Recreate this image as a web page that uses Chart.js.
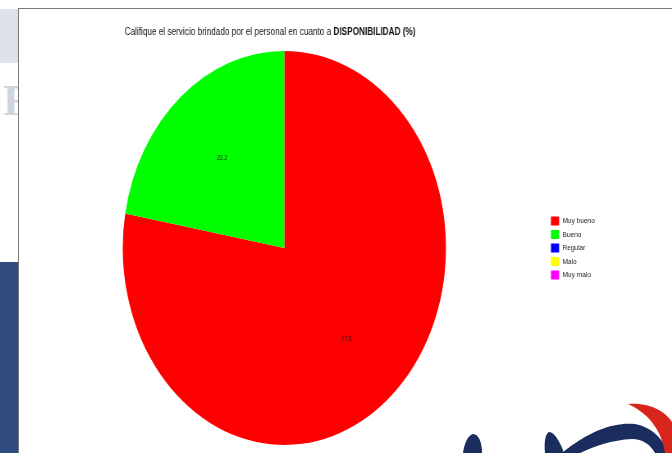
<!DOCTYPE html>
<html>
<head>
<meta charset="utf-8">
<script src="https://cdn.jsdelivr.net/npm/chart.js@4.4.0/dist/chart.umd.min.js"></script>
<style>
    html, body { margin: 0; padding: 0; width: 672px; height: 453px; overflow: hidden; background: #fff; }
    body { position: relative; font-family: "Liberation Sans", Arial, sans-serif; }
    #side-top { position: absolute; left: 0; top: 9px; width: 18px; height: 54px; background: #dde1ea; }
    #side-r { position: absolute; left: 3px; top: 76px; width: 15px; height: 48px; overflow: hidden; color: #d3d4dc; font: bold 44px "Liberation Serif", serif; line-height: 50px; }
    #side-blue { position: absolute; left: 0; top: 262px; width: 18px; height: 191px; background: #304b7d; }
    #frame { position: absolute; left: 18px; top: 8px; width: 654px; height: 445px; border-left: 1px solid #7a7a7a; border-top: 1px solid #7a7a7a; box-sizing: border-box; background: #fff; }
    #availabilityPie { position: absolute; left: 19px; top: 9px; }
    #logo { position: absolute; left: 0; top: 0; pointer-events: none; }
</style>
</head>
<body>
<div id="side-top"></div>
<div id="side-r">R</div>
<div id="side-blue"></div>
<div id="frame"></div>
<!-- the source picture is squeezed sideways, so the canvas is drawn wider and shown at 653px -->
<canvas id="availabilityPie" width="796" height="444" style="width:653px;height:444px"></canvas>
<svg id="logo" width="672" height="453">
    <path d="M463,453 C464,444 468,435 473,434 C479,434 482,443 482,453 Z" fill="#1b2d5e"/>
    <path d="M545,453 C544,443 545,434 549,432 C555,432 561,444 564,453 Z" fill="#1b2d5e"/>
    <path d="M562,453 C590,430 615,422 635,424 C652,427 664,440 668,453 L655,453 C650,444 642,439 632,439 C612,440 595,446 580,453 Z" fill="#1b2d5e"/>
    <path d="M628,404 C650,402 666,412 672,422 L672,453 L665,453 C662,432 650,414 628,404 Z" fill="#d9261c"/>
</svg>

<script>
const categories = ['Muy bueno', 'Bueno', 'Regular', 'Malo', 'Muy malo'];
const percentages = [77.8, 22.2, 0, 0, 0];
const sliceColors = ['#ff0000', '#00ff00', '#0000ff', '#ffff00', '#ff00ff'];
const titleParts = ['Califique el servicio brindado por el personal en cuanto a ', 'DISPONIBILIDAD (%)'];

// title has a plain part and a bold part, so it is drawn by hand
const splitTitle = {
    id: 'splitTitle',
    afterDraw(chart) {
        const ctx = chart.ctx;
        ctx.save();
        ctx.fillStyle = '#111';
        ctx.textBaseline = 'middle';
        ctx.textAlign = 'left';
        ctx.font = '10px "Liberation Sans", Arial, sans-serif';
        const w1 = ctx.measureText(titleParts[0]).width;
        ctx.font = 'bold 10px "Liberation Sans", Arial, sans-serif';
        const w2 = ctx.measureText(titleParts[1]).width;
        let x = 306 - (w1 + w2) / 2;
        ctx.font = '10px "Liberation Sans", Arial, sans-serif';
        ctx.fillText(titleParts[0], x, 23.5);
        ctx.font = 'bold 10px "Liberation Sans", Arial, sans-serif';
        ctx.fillText(titleParts[1], x + w1, 23.5);
        ctx.restore();
    }
};

// small value labels inside each slice
const sliceValues = {
    id: 'sliceValues',
    afterDatasetsDraw(chart) {
        const ctx = chart.ctx;
        const meta = chart.getDatasetMeta(0);
        ctx.save();
        ctx.font = '6.5px "Liberation Sans", Arial, sans-serif';
        ctx.fillStyle = '#222';
        ctx.textAlign = 'center';
        ctx.textBaseline = 'middle';
        meta.data.forEach((arc, i) => {
            if (!percentages[i]) return;
            const mid = (arc.startAngle + arc.endAngle) / 2;
            const r = arc.outerRadius * 0.6;
            ctx.fillText(percentages[i].toFixed(1), arc.x + Math.cos(mid) * r, arc.y + Math.sin(mid) * r + 1);
        });
        ctx.restore();
    }
};

const ctx = document.getElementById('availabilityPie').getContext('2d');
new Chart(ctx, {
    type: 'pie',
    data: {
        labels: categories,
        datasets: [{
            data: percentages,
            backgroundColor: sliceColors,
            borderWidth: 0
        }]
    },
    options: {
        responsive: false,
        animation: false,
        layout: { padding: { top: 42, bottom: 8, left: 3, right: 84 } },
        plugins: {
            legend: {
                position: 'right',
                labels: {
                    boxWidth: 10,
                    boxHeight: 9,
                    padding: 4.5,
                    color: '#222',
                    font: { family: '"Liberation Sans", Arial, sans-serif', size: 8 }
                }
            },
            tooltip: { enabled: false }
        }
    },
    plugins: [splitTitle, sliceValues]
});
</script>
</body>
</html>
